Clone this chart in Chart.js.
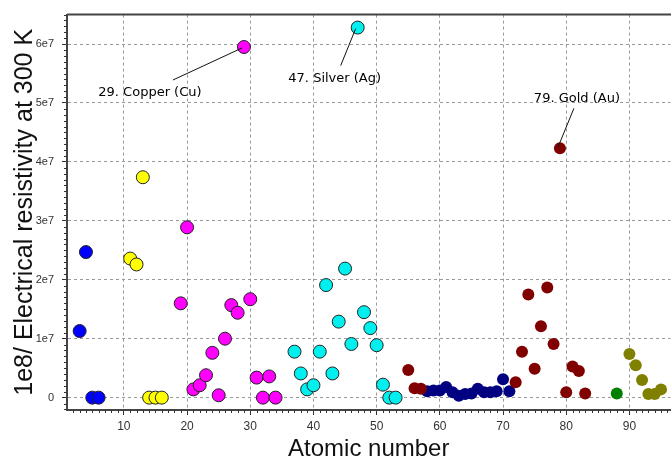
<!DOCTYPE html>
<html>
<head>
<meta charset="utf-8">
<script src="https://cdn.jsdelivr.net/npm/chart.js@4/dist/chart.umd.min.js"></script>
<style>
  html, body { margin: 0; padding: 0; background: #fff; overflow: hidden; }
  #wrap { width: 671px; height: 458px; overflow: hidden; }
</style>
</head>
<body>
<div id="wrap"><canvas id="myChart" width="678" height="458"></canvas></div>
<script>
// Atomic numbers and conductivity values (1e8 / resistivity)
const blueZ = [3, 4, 5, 6];
const blueV = [1.13e7, 2.47e7, 0, 0];

const yellowZ = [11, 12, 13, 14, 15, 16];
const yellowV = [2.36e7, 2.26e7, 3.74e7, 0, 0, 0];

const magentaZ = [19, 20, 21, 22, 23, 24, 25, 26, 27, 28, 29, 30, 31, 32, 33, 34];
const magentaV = [1.60e7, 2.89e7, 0.14e7, 0.21e7, 0.38e7, 0.76e7, 0.04e7, 1.0e7,
  1.57e7, 1.44e7, 5.95e7, 1.67e7, 0.34e7, 0, 0.36e7, 0];

const cyanZ = [37, 38, 39, 40, 41, 42, 43, 44, 45, 46, 47, 48, 49, 50, 51, 52, 53];
const cyanV = [0.78e7, 0.41e7, 0.14e7, 0.21e7, 0.78e7, 1.91e7, 0.41e7, 1.29e7,
  2.19e7, 0.91e7, 6.28e7, 1.45e7, 1.18e7, 0.89e7, 0.22e7, 0, 0];

const redZ = [55, 56, 57, 72, 73, 74, 75, 76, 77, 78, 79, 80, 81, 82, 83];
const redV = [0.47e7, 0.16e7, 0.15e7, 0.26e7, 0.78e7, 1.75e7, 0.49e7, 1.21e7,
  1.87e7, 0.91e7, 4.23e7, 0.09e7, 0.53e7, 0.45e7, 0.07e7];

const navyZ = [58, 59, 60, 61, 62, 63, 64, 65, 66, 67, 68, 69, 70, 71];
const navyV = [0.11e7, 0.12e7, 0.12e7, 0.18e7, 0.09e7, 0.03e7, 0.06e7, 0.07e7,
  0.15e7, 0.09e7, 0.09e7, 0.11e7, 0.31e7, 0.11e7];

const greenZ = [88];
const greenV = [0.07e7];

const oliveZ = [90, 91, 92, 93, 94, 95];
const oliveV = [0.74e7, 0.55e7, 0.30e7, 0.06e7, 0.06e7, 0.14e7];

// tick positions
const xTicks = [10, 20, 30, 40, 50, 60, 70, 80, 90];
const yTicks = [0, 1e7, 2e7, 3e7, 4e7, 5e7, 6e7];
const yTickLabels = ["0", "1e7", "2e7", "3e7", "4e7", "5e7", "6e7"];

// labelled elements
const labelZ = [29, 47, 79];
const labelV = [5.95e7, 6.28e7, 4.23e7];
const labelText = ["29. Copper (Cu)", "47. Silver (Ag)", "79. Gold (Au)"];

function toPoints(xs, ys) {
  return xs.map((x, i) => ({ x: x, y: ys[i] }));
}

function makeSet(xs, ys, color, outlined) {
  return {
    data: toPoints(xs, ys),
    backgroundColor: color,
    borderColor: outlined ? "#222" : color,
    borderWidth: outlined ? 1 : 0,
    pointRadius: outlined ? 6.5 : 6,
    pointHoverRadius: 6.5,
  };
}

// minor ticks, top frame line and the callout labels
const extrasPlugin = {
  id: "extras",
  afterDraw(chart) {
    const ctx = chart.ctx;
    const area = chart.chartArea;
    const xs = chart.scales.x;
    const ys = chart.scales.y;
    ctx.save();
    ctx.strokeStyle = "#333";
    ctx.lineWidth = 1;
    ctx.beginPath();
    for (let v = 2; v <= 96; v++) {
      if (v % 10 === 0) continue;
      const px = Math.round(xs.getPixelForValue(v)) + 0.5;
      ctx.moveTo(px, area.bottom);
      ctx.lineTo(px, area.bottom + 3);
    }
    for (let v = -2e6; v <= 6.5e7; v += 1e6) {
      if (v % 1e7 === 0) continue;
      const py = Math.round(ys.getPixelForValue(v)) + 0.5;
      ctx.moveTo(area.left - 3, py);
      ctx.lineTo(area.left, py);
    }
    ctx.stroke();

    // top frame
    ctx.strokeStyle = "#444";
    ctx.lineWidth = 2;
    ctx.beginPath();
    ctx.moveTo(area.left, area.top);
    ctx.lineTo(chart.width, area.top);
    ctx.stroke();

    // callouts: [line dx, line dy, text dx, text dy] from the point
    const offsets = [[-71, 33, -94, 46], [-17, 38, -23, 51], [14, -40, 17, -50]];
    ctx.font = "13px 'DejaVu Sans'";
    ctx.fillStyle = "#000";
    ctx.textAlign = "center";
    ctx.textBaseline = "middle";
    ctx.strokeStyle = "#111";
    ctx.lineWidth = 1;
    labelZ.forEach((z, i) => {
      const px = xs.getPixelForValue(z);
      const py = ys.getPixelForValue(labelV[i]);
      const o = offsets[i];
      ctx.beginPath();
      ctx.moveTo(px + o[0], py + o[1]);
      ctx.lineTo(px - 2, py + (o[1] > 0 ? 1 : -1));
      ctx.stroke();
      ctx.fillText(labelText[i], px + o[2], py + o[3]);
    });
    ctx.restore();
  },
};

const ctx = document.getElementById("myChart").getContext("2d");

new Chart(ctx, {
  type: "scatter",
  data: {
    datasets: [
      makeSet(blueZ, blueV, "#0000ff", true),
      makeSet(yellowZ, yellowV, "#ffff00", true),
      makeSet(magentaZ, magentaV, "#ff00ff", true),
      makeSet(cyanZ, cyanV, "#00f0f0", true),
      makeSet(redZ, redV, "#800000", false),
      makeSet(navyZ, navyV, "#000080", false),
      makeSet(greenZ, greenV, "#008000", false),
      makeSet(oliveZ, oliveV, "#808000", false),
    ],
  },
  options: {
    responsive: false,
    animation: false,
    layout: { padding: { top: 12, right: 0, left: 0, bottom: 0 } },
    plugins: {
      legend: { display: false },
      tooltip: { enabled: false },
    },
    scales: {
      x: {
        type: "linear",
        min: 1,
        max: 96.5,
        afterFit: (s) => { s.height = 48; },
        afterBuildTicks: (s) => { s.ticks = xTicks.map((v) => ({ value: v })); },
        ticks: {
          autoSkip: false,
          maxRotation: 0,
          padding: 4,
          color: "#333",
          font: { family: "'Liberation Sans', Arial", size: 12 },
        },
        grid: { color: "#999", tickColor: "#333", tickLength: 5 },
        border: { color: "#444", width: 2, dash: [3, 3] },
        title: {
          display: true,
          text: "Atomic number",
          color: "#111",
          font: { family: "'Liberation Sans', Arial", size: 24 },
          padding: { top: 0, bottom: -6 },
        },
      },
      y: {
        type: "linear",
        min: -2.1e6,
        max: 6.5e7,
        afterFit: (s) => { s.width = 67; },
        afterBuildTicks: (s) => { s.ticks = yTicks.map((v) => ({ value: v })); },
        ticks: {
          autoSkip: false,
          padding: 8,
          color: "#333",
          font: { family: "'Liberation Sans', Arial", size: 11 },
          callback: (v) => yTickLabels[yTicks.indexOf(v)],
        },
        grid: { color: "#999", tickColor: "#333", tickLength: 5 },
        border: { color: "#444", width: 2, dash: [3, 3] },
        title: {
          display: true,
          text: "1e8/ Electrical resistivity at 300 K",
          color: "#111",
          font: { family: "'Liberation Sans', Arial", size: 25 },
          padding: { top: 10, bottom: 0 },
        },
      },
    },
  },
  plugins: [extrasPlugin],
});
</script>
</body>
</html>
